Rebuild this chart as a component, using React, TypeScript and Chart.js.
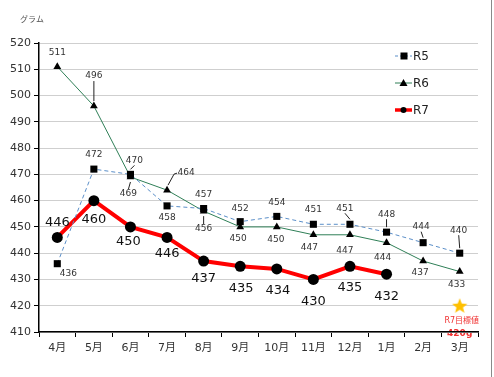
import React, { useEffect, useRef } from "react";
import { Chart, registerables } from "chart.js";

Chart.register(...registerables);

const categories = ["4月", "5月", "6月", "7月", "8月", "9月", "10月", "11月", "12月", "1月", "2月", "3月"];
const r5Values = [436, 472, 470, 458, 457, 452, 454, 451, 451, 448, 444, 440];
const r6Values = [511, 496, 469, 464, 456, 450, 450, 447, 447, 444, 437, 433];
const r7Values: (number | null)[] = [446, 460, 450, 446, 437, 435, 434, 430, 435, 432, null, null];
const targetValues: (number | null)[] = [null, null, null, null, null, null, null, null, null, null, null, 420];
const seriesNames = ["R5", "R6", "R7"];
const yMin = 410;
const yMax = 520;
const yStep = 10;
const yTitle = "グラム";
const targetLabel = "R7目標値";
const targetValueLabel = "420g";

// label placement styles: [dx, dy, leader]
const r5LabelPos: [number, number, number][] = [
  [11, 10, 0], [0, -14, 0], [4, -14, 1], [0, 12, 0], [0, -14, 0], [0, -13, 0],
  [0, -14, 0], [0, -15, 0], [-5, -16, 1], [0, -18, 1], [-2, -16, 1], [-1, -23, 1],
];
const r6LabelPos: [number, number, number][] = [
  [0, -14, 0], [0, -30, 1], [-2, 17, 1], [19, -17, 2], [0, 18, 1], [-2, 12, 0],
  [-1, 13, 0], [-4, 13, 0], [-5, 16, 0], [-4, 15, 0], [-3, 12, 0], [-3, 13, 0],
];
const r7LabelPos: [number, number][] = [
  [0, -15], [0, 19], [-2, 15], [0, 16], [0, 18], [1, 22], [1, 22], [0, 22], [0, 21], [0, 22],
];

const FONT = "'DejaVu Sans', 'Noto Sans CJK JP', sans-serif";
const R5_COLOR = "#5b8fc9";
const R6_COLOR = "#2f7f57";
const R7_COLOR = "#ff0000";

function makeStar(): HTMLCanvasElement {
  const c = document.createElement("canvas");
  c.width = 16;
  c.height = 16;
  const ctx = c.getContext("2d")!;
  ctx.fillStyle = "#ffc000";
  ctx.beginPath();
  for (let i = 0; i < 10; i++) {
    const r = i % 2 === 0 ? 8 : 3.4;
    const a = -Math.PI / 2 + (i * Math.PI) / 5;
    const x = 8 + r * Math.cos(a);
    const y = 8.6 + r * Math.sin(a);
    if (i === 0) ctx.moveTo(x, y);
    else ctx.lineTo(x, y);
  }
  ctx.closePath();
  ctx.fill();
  return c;
}

const labelPlugin = {
  id: "pointLabels",
  afterDatasetsDraw(chart: any) {
    const ctx = chart.ctx;
    ctx.save();
    ctx.textAlign = "center";
    ctx.textBaseline = "middle";
    const cfgs: [number, any[], string, string][] = [
      [0, r5LabelPos, "9px " + FONT, "#333"],
      [1, r6LabelPos, "9px " + FONT, "#333"],
      [2, r7LabelPos, "13px " + FONT, "#111"],
    ];
    for (const [di, pos, font, color] of cfgs) {
      const meta = chart.getDatasetMeta(di);
      const data = chart.data.datasets[di].data;
      meta.data.forEach((el: any, j: number) => {
        const v = data[j];
        if (v === null || v === undefined || !pos[j]) return;
        const [dx, dy, leader] = pos[j];
        const lx = el.x + dx;
        const ly = el.y + dy;
        ctx.font = font;
        ctx.fillStyle = color;
        ctx.fillText(String(v), lx, ly);
        if (leader) {
          const s = dy > 0 ? 1 : -1;
          ctx.strokeStyle = "#222";
          ctx.lineWidth = 1;
          ctx.beginPath();
          if (leader === 2) {
            ctx.moveTo(el.x + 1, el.y - 5);
            ctx.lineTo(lx - 12, ly + 1);
            ctx.lineTo(lx - 9, ly);
          } else {
            ctx.moveTo(el.x, el.y + s * 5);
            ctx.lineTo(lx, ly - s * 5);
          }
          ctx.stroke();
        }
      });
    }
    ctx.restore();
  },
};

const decorPlugin = {
  id: "decor",
  beforeDraw(chart: any) {
    const ctx = chart.ctx;
    const meta = chart.getDatasetMeta(3);
    const el = meta.data[11];
    ctx.save();
    ctx.fillStyle = "#fff";
    ctx.fillRect(0, 0, chart.width, chart.height);
    if (el) {
      ctx.textAlign = "center";
      ctx.textBaseline = "middle";
      ctx.fillStyle = "#f03030";
      ctx.font = "8px " + FONT;
      ctx.fillText(targetLabel, el.x + 2, el.y + 15);
      ctx.font = "bold 9px " + FONT;
      ctx.fillText(targetValueLabel, el.x, el.y + 28);
    }
    ctx.restore();
  },
  afterDraw(chart: any) {
    const ctx = chart.ctx;
    ctx.save();
    // y title
    ctx.fillStyle = "#555";
    ctx.font = "8px " + FONT;
    ctx.textAlign = "center";
    ctx.textBaseline = "middle";
    ctx.fillText(yTitle, 32, 20);
    // legend
    const rows = [
      { y: 56, color: R5_COLOR, dash: [3, 2], width: 1, style: "rect" },
      { y: 83, color: R6_COLOR, dash: [], width: 1, style: "triangle" },
      { y: 110, color: R7_COLOR, dash: [], width: 3.5, style: "circle" },
    ];
    rows.forEach((r, i) => {
      ctx.strokeStyle = r.color;
      ctx.lineWidth = r.width;
      ctx.setLineDash(r.dash);
      ctx.beginPath();
      ctx.moveTo(395, r.y);
      ctx.lineTo(412, r.y);
      ctx.stroke();
      ctx.setLineDash([]);
      ctx.fillStyle = "#000";
      ctx.beginPath();
      if (r.style === "rect") {
        ctx.rect(400.5, r.y - 3.5, 7, 7);
      } else if (r.style === "triangle") {
        ctx.moveTo(403.5, r.y - 4);
        ctx.lineTo(407.5, r.y + 3);
        ctx.lineTo(399.5, r.y + 3);
        ctx.closePath();
      } else {
        ctx.arc(403.5, r.y, 3, 0, Math.PI * 2);
      }
      ctx.fill();
      ctx.fillStyle = "#222";
      ctx.font = "12px " + FONT;
      ctx.textAlign = "left";
      ctx.fillText(seriesNames[i], 413, r.y + 1);
    });
    // right frame line
    ctx.strokeStyle = "#8a8a8a";
    ctx.lineWidth = 1;
    ctx.beginPath();
    ctx.moveTo(491.5, 0);
    ctx.lineTo(491.5, chart.height);
    ctx.stroke();
    ctx.restore();
  },
};

export default function App() {
  const ref = useRef<HTMLCanvasElement | null>(null);
  useEffect(() => {
    if (!ref.current) return;
    const star = makeStar();
    const chart = new Chart(ref.current, {
      type: "line",
      data: {
        labels: categories,
        datasets: [
          {
            label: seriesNames[0],
            data: r5Values,
            borderColor: R5_COLOR,
            borderWidth: 1,
            borderDash: [4, 3],
            pointStyle: "rect",
            pointRadius: 5,
            pointBackgroundColor: "#000",
            pointBorderColor: "#000",
            pointBorderWidth: 0,
            tension: 0,
          },
          {
            label: seriesNames[1],
            data: r6Values,
            borderColor: R6_COLOR,
            borderWidth: 1,
            pointStyle: "triangle",
            pointRadius: 4.5,
            pointBackgroundColor: "#000",
            pointBorderColor: "#000",
            pointBorderWidth: 0,
            tension: 0,
          },
          {
            label: seriesNames[2],
            data: r7Values,
            borderColor: R7_COLOR,
            borderWidth: 4,
            pointStyle: "circle",
            pointRadius: 5.5,
            pointBackgroundColor: "#000",
            pointBorderColor: "#000",
            pointBorderWidth: 0,
            tension: 0,
            spanGaps: false,
          },
          {
            label: "target",
            data: targetValues,
            showLine: false,
            pointStyle: star as any,
            pointRadius: 8,
          },
        ],
      },
      options: {
        responsive: false,
        animation: false,
        layout: { padding: { top: 43, right: 16, left: 0, bottom: 0 } },
        plugins: { legend: { display: false }, tooltip: { enabled: false } },
        scales: {
          x: {
            offset: true,
            grid: {
              offset: true,
              drawOnChartArea: false,
              tickLength: 5,
              tickColor: "#000",
            },
            border: { color: "#000", width: 1.5 },
            ticks: { color: "#333", font: { family: FONT, size: 11 }, padding: 5, maxRotation: 0 },
            afterFit: (s: any) => {
              s.height = 45;
            },
          },
          y: {
            min: yMin,
            max: yMax,
            ticks: { stepSize: yStep, color: "#333", font: { family: FONT, size: 11 }, padding: 3 },
            grid: { color: "#cfcfcf", tickColor: "#000", tickLength: 5, lineWidth: 1 },
            border: { color: "#000", width: 1.5 },
            afterFit: (s: any) => {
              s.width = 39;
            },
          },
        },
      },
      plugins: [labelPlugin, decorPlugin],
    });
    return () => chart.destroy();
  }, []);
  return (
    <div style={{ position: "fixed", left: 0, top: 0, width: 494, height: 377, background: "#fff" }}>
      <canvas ref={ref} width={494} height={377} style={{ width: 494, height: 377, display: "block" }} />
    </div>
  );
}
